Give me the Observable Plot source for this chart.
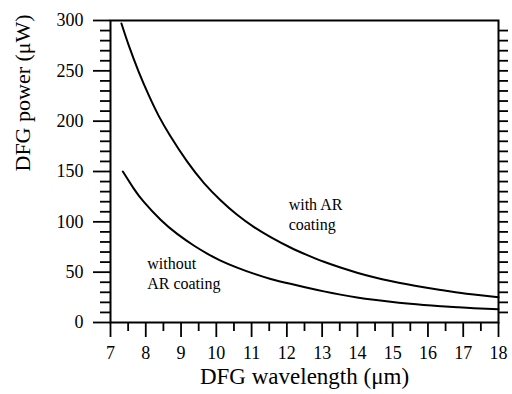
<!DOCTYPE html>
<html><head><meta charset="utf-8">
<script src="https://cdn.jsdelivr.net/npm/d3@7"></script>
<script src="https://cdn.jsdelivr.net/npm/@observablehq/plot@0.6"></script>
<style>body{margin:0;background:#fff}</style>
</head><body><div id="chart"></div>
<script>
// with AR coating
const withAR_wl = [7.31, 7.52, 7.80, 8.09, 8.37, 8.70, 9.17, 9.65, 10.12, 10.59, 11.06, 11.54, 12.10, 12.58, 13.05, 13.52, 13.99, 14.47, 14.94, 15.41, 15.88, 16.36, 16.83, 17.30, 18.0];
const withAR_pw = [297, 275, 249, 225.3, 205, 185, 160, 138.5, 121.5, 107, 95, 84.8, 74.5, 67, 60.3, 54.6, 49.5, 45, 41.2, 37.9, 35, 32.3, 29.9, 27.7, 25];
// without AR coating
const noAR_wl = [7.35, 7.66, 7.94, 8.42, 8.89, 9.36, 9.74, 10.12, 10.59, 11.06, 11.54, 12.10, 12.58, 13.05, 13.52, 13.99, 14.47, 14.94, 15.41, 15.88, 16.36, 16.83, 17.30, 18.0];
const noAR_pw = [150, 133, 120, 102, 88, 76.5, 68.5, 61.5, 54.5, 48.5, 43.3, 38.4, 34.5, 30.9, 27.7, 24.9, 22.5, 20.5, 18.8, 17.3, 16.1, 15.1, 14.2, 13.2];

const xMajor = [7, 8, 9, 10, 11, 12, 13, 14, 15, 16, 17, 18];
const xMinor = [7.5, 8.5, 9.5, 10.5, 11.5, 12.5, 13.5, 14.5, 15.5, 16.5, 17.5];
const yMajor = [0, 50, 100, 150, 200, 250, 300];
const yMinor = [10, 20, 30, 40, 60, 70, 80, 90, 110, 120, 130, 140, 160, 170, 180, 190, 210, 220, 230, 240, 260, 270, 280, 290];
const yRight = [10, 20, 30, 40, 50, 60, 70, 80, 90, 100, 110, 120, 130, 140, 150, 160, 170, 180, 190, 200, 210, 220, 230, 240, 250, 260, 270, 280, 290];

const xLabel = "DFG wavelength (μm)";
const yLabel = "DFG power (μW)";
const annotations = [
  {wl: 12.05, pw: 108, text: "with AR\ncoating"},
  {wl: 8.04, pw: 50, text: "without\nAR coating"}
];

const series = [
  ...withAR_wl.map((w, i) => ({wl: w, pw: withAR_pw[i], s: "with"})),
  ...noAR_wl.map((w, i) => ({wl: w, pw: noAR_pw[i], s: "without"}))
];

const blank = () => "";

const chart = Plot.plot({
  width: 512, height: 394,
  marginLeft: 110, marginRight: 14, marginTop: 20, marginBottom: 72,
  style: {fontFamily: "'Liberation Serif', 'Times New Roman', serif", color: "black", background: "white"},
  x: {domain: [7, 18]},
  y: {domain: [0, 300]},
  marks: [
    Plot.axisX(xMajor, {tickSize: 15, tickPadding: 9, fontSize: 18, strokeWidth: 1.8, label: null}),
    Plot.axisX(xMinor, {tickSize: 9, strokeWidth: 1.8, tickFormat: blank, label: null}),
    Plot.axisY(yMajor, {tickSize: 17, tickPadding: 10, fontSize: 18, strokeWidth: 1.8, label: null}),
    Plot.axisY(yMinor, {tickSize: 10, strokeWidth: 1.8, tickFormat: blank, label: null}),
    Plot.axisY(yRight, {anchor: "right", tickSize: 9, strokeWidth: 1.8, tickFormat: blank, label: null}),
    Plot.frame({strokeWidth: 2}),
    Plot.line(series, {x: "wl", y: "pw", z: "s", curve: "natural", stroke: "black", strokeWidth: 2}),
    Plot.text(annotations, {x: "wl", y: "pw", text: "text", textAnchor: "start", lineAnchor: "middle", lineHeight: 1.25, fontSize: 16}),
    Plot.text([xLabel], {frameAnchor: "bottom", dy: 61, fontSize: 23}),
    Plot.text([yLabel], {frameAnchor: "left", dx: -88, rotate: -90, fontSize: 22})
  ]
});
document.getElementById("chart").appendChild(chart);
</script>
</body></html>
